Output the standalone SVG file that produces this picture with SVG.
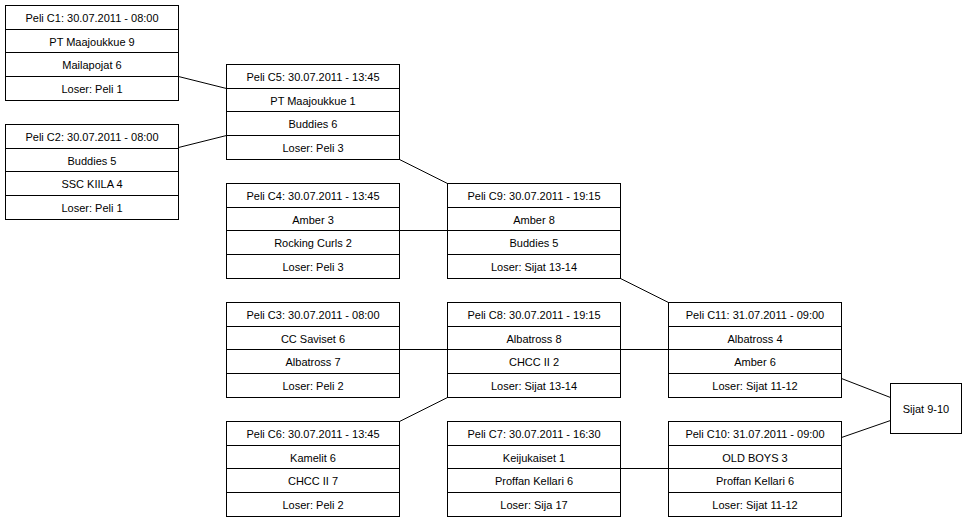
<svg xmlns="http://www.w3.org/2000/svg" width="966" height="521" viewBox="0 0 966 521">
<style>
rect{fill:#fff;stroke:#000;stroke-width:1}
line.s{stroke:#000;stroke-width:1}
.c path{fill:none;stroke:#000;stroke-width:1}
text{font-family:"Liberation Sans",Arial,sans-serif;font-size:11px;text-anchor:middle;fill:#000}
</style>
<rect x="0" y="0" width="966" height="521" style="stroke:none"/>
<g class="c" id="connectors">
<path d="M178.5,76.5 L226.5,88.5"/>
<path d="M178.5,147.5 L226.5,135.5"/>
<path d="M399.5,159.5 L447.5,183.5"/>
<path d="M399.5,230.5 L447.5,230.5"/>
<path d="M620.5,278.5 L668.5,302.5"/>
<path d="M399.5,349.5 L447.5,349.5"/>
<path d="M620.5,349.5 L668.5,349.5"/>
<path d="M399.5,421.5 L447.5,397.5"/>
<path d="M620.5,468.5 L668.5,468.5"/>
<path d="M841.5,378.5 L890.5,397.5"/>
<path d="M841.5,437.5 L890.5,420.5"/>
</g>
<g id="C1" transform="translate(5.5,5.5)">
<rect width="173" height="95"/><line class="s" x1="0" x2="173" y1="24" y2="24"/><line class="s" x1="0" x2="173" y1="47" y2="47"/><line class="s" x1="0" x2="173" y1="71" y2="71"/>
<text x="86.5" y="16">Peli C1: 30.07.2011 - 08:00</text><text x="86.5" y="40">PT Maajoukkue 9</text><text x="86.5" y="63">Mailapojat 6</text><text x="86.5" y="87">Loser: Peli 1</text></g>
<g id="C2" transform="translate(5.5,124.5)">
<rect width="173" height="95"/><line class="s" x1="0" x2="173" y1="24" y2="24"/><line class="s" x1="0" x2="173" y1="47" y2="47"/><line class="s" x1="0" x2="173" y1="71" y2="71"/>
<text x="86.5" y="16">Peli C2: 30.07.2011 - 08:00</text><text x="86.5" y="40">Buddies 5</text><text x="86.5" y="63">SSC KIILA 4</text><text x="86.5" y="87">Loser: Peli 1</text></g>
<g id="C5" transform="translate(226.5,64.5)">
<rect width="173" height="95"/><line class="s" x1="0" x2="173" y1="24" y2="24"/><line class="s" x1="0" x2="173" y1="47" y2="47"/><line class="s" x1="0" x2="173" y1="71" y2="71"/>
<text x="86.5" y="16">Peli C5: 30.07.2011 - 13:45</text><text x="86.5" y="40">PT Maajoukkue 1</text><text x="86.5" y="63">Buddies 6</text><text x="86.5" y="87">Loser: Peli 3</text></g>
<g id="C4" transform="translate(226.5,183.5)">
<rect width="173" height="95"/><line class="s" x1="0" x2="173" y1="24" y2="24"/><line class="s" x1="0" x2="173" y1="47" y2="47"/><line class="s" x1="0" x2="173" y1="71" y2="71"/>
<text x="86.5" y="16">Peli C4: 30.07.2011 - 13:45</text><text x="86.5" y="40">Amber 3</text><text x="86.5" y="63">Rocking Curls 2</text><text x="86.5" y="87">Loser: Peli 3</text></g>
<g id="C3" transform="translate(226.5,302.5)">
<rect width="173" height="95"/><line class="s" x1="0" x2="173" y1="24" y2="24"/><line class="s" x1="0" x2="173" y1="47" y2="47"/><line class="s" x1="0" x2="173" y1="71" y2="71"/>
<text x="86.5" y="16">Peli C3: 30.07.2011 - 08:00</text><text x="86.5" y="40">CC Saviset 6</text><text x="86.5" y="63">Albatross 7</text><text x="86.5" y="87">Loser: Peli 2</text></g>
<g id="C6" transform="translate(226.5,421.5)">
<rect width="173" height="95"/><line class="s" x1="0" x2="173" y1="24" y2="24"/><line class="s" x1="0" x2="173" y1="47" y2="47"/><line class="s" x1="0" x2="173" y1="71" y2="71"/>
<text x="86.5" y="16">Peli C6: 30.07.2011 - 13:45</text><text x="86.5" y="40">Kamelit 6</text><text x="86.5" y="63">CHCC II 7</text><text x="86.5" y="87">Loser: Peli 2</text></g>
<g id="C9" transform="translate(447.5,183.5)">
<rect width="173" height="95"/><line class="s" x1="0" x2="173" y1="24" y2="24"/><line class="s" x1="0" x2="173" y1="47" y2="47"/><line class="s" x1="0" x2="173" y1="71" y2="71"/>
<text x="86.5" y="16">Peli C9: 30.07.2011 - 19:15</text><text x="86.5" y="40">Amber 8</text><text x="86.5" y="63">Buddies 5</text><text x="86.5" y="87">Loser: Sijat 13-14</text></g>
<g id="C8" transform="translate(447.5,302.5)">
<rect width="173" height="95"/><line class="s" x1="0" x2="173" y1="24" y2="24"/><line class="s" x1="0" x2="173" y1="47" y2="47"/><line class="s" x1="0" x2="173" y1="71" y2="71"/>
<text x="86.5" y="16">Peli C8: 30.07.2011 - 19:15</text><text x="86.5" y="40">Albatross 8</text><text x="86.5" y="63">CHCC II 2</text><text x="86.5" y="87">Loser: Sijat 13-14</text></g>
<g id="C7" transform="translate(447.5,421.5)">
<rect width="173" height="95"/><line class="s" x1="0" x2="173" y1="24" y2="24"/><line class="s" x1="0" x2="173" y1="47" y2="47"/><line class="s" x1="0" x2="173" y1="71" y2="71"/>
<text x="86.5" y="16">Peli C7: 30.07.2011 - 16:30</text><text x="86.5" y="40">Keijukaiset 1</text><text x="86.5" y="63">Proffan Kellari 6</text><text x="86.5" y="87">Loser: Sija 17</text></g>
<g id="C11" transform="translate(668.5,302.5)">
<rect width="173" height="95"/><line class="s" x1="0" x2="173" y1="24" y2="24"/><line class="s" x1="0" x2="173" y1="47" y2="47"/><line class="s" x1="0" x2="173" y1="71" y2="71"/>
<text x="86.5" y="16">Peli C11: 31.07.2011 - 09:00</text><text x="86.5" y="40">Albatross 4</text><text x="86.5" y="63">Amber 6</text><text x="86.5" y="87">Loser: Sijat 11-12</text></g>
<g id="C10" transform="translate(668.5,421.5)">
<rect width="173" height="95"/><line class="s" x1="0" x2="173" y1="24" y2="24"/><line class="s" x1="0" x2="173" y1="47" y2="47"/><line class="s" x1="0" x2="173" y1="71" y2="71"/>
<text x="86.5" y="16">Peli C10: 31.07.2011 - 09:00</text><text x="86.5" y="40">OLD BOYS 3</text><text x="86.5" y="63">Proffan Kellari 6</text><text x="86.5" y="87">Loser: Sijat 11-12</text></g>
<g id="S910" transform="translate(890.5,383.5)">
<rect width="71" height="50"/><text x="35.5" y="29">Sijat 9-10</text></g>
</svg>
